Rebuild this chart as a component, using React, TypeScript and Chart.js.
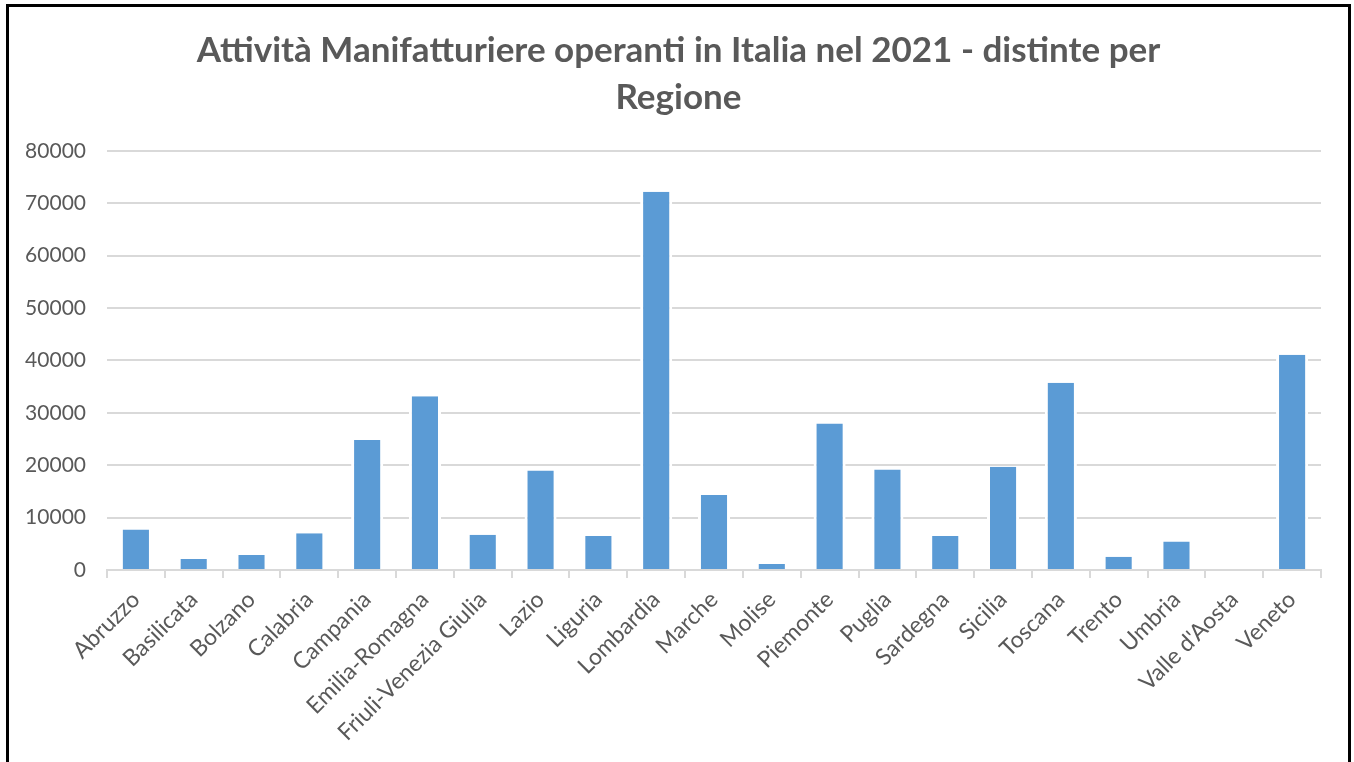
import React, { useEffect, useRef } from "react";
import { Chart, registerables } from "chart.js";

Chart.register(...registerables);

const regions: string[] = [
  "Abruzzo", "Basilicata", "Bolzano", "Calabria", "Campania", "Emilia-Romagna",
  "Friuli-Venezia Giulia", "Lazio", "Liguria", "Lombardia", "Marche", "Molise",
  "Piemonte", "Puglia", "Sardegna", "Sicilia", "Toscana", "Trento", "Umbria",
  "Valle d'Aosta", "Veneto",
];

const activities: number[] = [
  7750, 2100, 2850, 7000, 24800, 33150,
  6750, 19000, 6480, 72200, 14300, 1150,
  27950, 19200, 6480, 19700, 35750, 2550, 5450,
  0, 41100,
];

const titleLines: string[] = [
  "Attività Manifatturiere operanti in Italia nel 2021 - distinte per",
  "Regione",
];

const yMax = 80000;
const yStep = 10000;

export default function App() {
  const ref = useRef<HTMLCanvasElement | null>(null);

  useEffect(() => {
    if (!ref.current) return;
    const chart = new Chart(ref.current, {
      type: "bar",
      data: {
        labels: regions,
        datasets: [
          {
            data: activities,
            backgroundColor: "#5b9bd5",
            borderColor: "#ffffff",
            borderWidth: { left: 3, right: 3, top: 0, bottom: 0 },
            borderSkipped: false,
            barPercentage: 0.555,
            categoryPercentage: 1,
          },
        ],
      },
      options: {
        responsive: false,
        animation: false,
        devicePixelRatio: 1,
        layout: { padding: 0 },
        plugins: {
          legend: { display: false },
          tooltip: { enabled: false },
          title: {
            display: true,
            text: titleLines,
            color: "#595959",
            font: { family: "Lato", size: 35, weight: "bold", lineHeight: 1.34 },
            padding: { top: 20, bottom: 30 },
          },
        },
        scales: {
          x: {
            grid: {
              display: true,
              drawOnChartArea: false,
              drawTicks: true,
              tickLength: 8,
              color: "#d9d9d9",
              lineWidth: 2,
              offset: true,
            },
            border: { display: true, color: "#d9d9d9", width: 2 },
            ticks: {
              color: "#595959",
              font: { family: "Lato", size: 23 },
              minRotation: 45,
              maxRotation: 45,
              autoSkip: false,
              padding: 8,
            },
            afterFit: (scale: any) => {
              scale.height = 192;
            },
          },
          y: {
            min: 0,
            max: yMax,
            grid: {
              color: "#d9d9d9",
              lineWidth: 2,
              drawTicks: false,
            },
            border: { display: false },
            ticks: {
              stepSize: yStep,
              color: "#595959",
              font: { family: "Lato", size: 21 },
              padding: 21,
              callback: (v: any) => String(v),
            },
            afterFit: (scale: any) => {
              scale.width = 98;
            },
          },
          yRight: {
            position: "right",
            display: true,
            min: 0,
            max: yMax,
            grid: { display: false, drawOnChartArea: false },
            border: { display: false },
            ticks: { display: false },
            afterFit: (scale: any) => {
              scale.width = 27;
            },
          },
        },
      },
    });
    return () => chart.destroy();
  }, []);

  return (
    <div style={{ position: "fixed", left: 0, top: 0, width: 1354, height: 762, overflow: "hidden", background: "#fff" }}>
      <div
        style={{
          position: "absolute",
          left: 6,
          top: 4,
          width: 1339,
          height: 800,
          border: "3px solid #000",
          background: "#fff",
        }}
      >
        <canvas ref={ref} width={1339} height={755} style={{ display: "block" }} />
      </div>
    </div>
  );
}
